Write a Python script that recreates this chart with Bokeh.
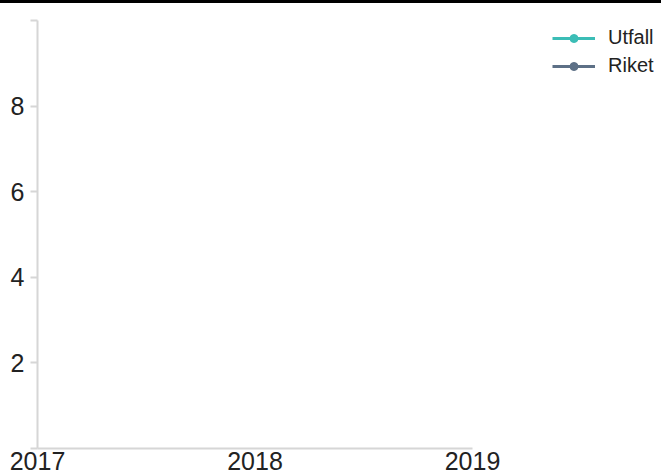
import math
from bokeh.plotting import figure
from bokeh.models import (Range1d, FixedTicker, Legend, LegendItem, ColumnDataSource, Div)
from bokeh.layouts import column
from bokeh.embed import file_html
from bokeh.resources import INLINE

# ---- data (the reference shows no plotted values) ----
years = [2017, 2018, 2019]
year_labels = ["2017", "2018", "2019"]
utfall = [float("nan"), float("nan"), float("nan")]
riket = [float("nan"), float("nan"), float("nan")]
y_ticks = [0, 2, 4, 6, 8, 10]
y_tick_labels = ["", "2", "4", "6", "8", ""]
series_names = ["Utfall", "Riket"]
series_colors = ["#3bbdb6", "#5d7086"]

FONT = "Liberation Sans"
TEXT = "#222222"
AXIS = "#d6d6d6"

W, H = 661, 473
LEFT, AXIS_END = 37, 472          # pixel positions of the first and last year
# the frame extends to the right edge so that the legend can live inside it
x_end = years[-1] + (years[-1] - years[0]) * (W - AXIS_END) / (AXIS_END - LEFT)

p = figure(width=W, height=H, output_backend="svg", toolbar_location=None,
           x_range=Range1d(years[0], x_end), y_range=Range1d(0, 10),
           min_border_left=LEFT, min_border_right=0, min_border_top=17, min_border_bottom=28,
           margin=0)
p.outline_line_color = None
p.xgrid.visible = False
p.ygrid.visible = False
p.background_fill_color = "white"
p.border_fill_color = "white"

src = ColumnDataSource(dict(x=years, u=utfall, r=riket))
items = []
for key, name, col in zip(["u", "r"], series_names, series_colors):
    l = p.line("x", key, source=src, line_color=col, line_width=3)
    s = p.scatter("x", key, source=src, size=8, fill_color=col, line_color=col)
    items.append(LegendItem(label=name, renderers=[l, s]))

# axes
xa = p.xaxis[0]
xa.ticker = FixedTicker(ticks=years)
xa.bounds = (years[0], years[-1])
xa.major_label_overrides = {y: lab for y, lab in zip(years, year_labels)}
xa.major_tick_out = 0
xa.major_tick_in = 0
xa.minor_tick_out = 0
xa.minor_tick_in = 0
xa.axis_line_color = AXIS
xa.axis_line_width = 2
xa.major_label_standoff = 3
xa.major_label_text_font = FONT
xa.major_label_text_font_size = "25px"
xa.major_label_text_color = TEXT

ya = p.yaxis[0]
ya.ticker = FixedTicker(ticks=y_ticks)
ya.major_label_overrides = {t: lab for t, lab in zip(y_ticks, y_tick_labels)}
ya.major_tick_out = 7
ya.major_tick_in = 0
ya.minor_tick_out = 0
ya.minor_tick_in = 0
ya.axis_line_color = AXIS
ya.axis_line_width = 2
ya.major_tick_line_color = AXIS
ya.major_tick_line_width = 2
ya.major_label_standoff = 6
ya.major_label_text_font = FONT
ya.major_label_text_font_size = "25px"
ya.major_label_text_color = TEXT

legend = Legend(items=items, location=(515, 371), orientation="vertical",
                padding=0, margin=0, spacing=5, glyph_width=43, glyph_height=20,
                label_height=20, label_standoff=13,
                label_text_font=FONT, label_text_font_size="20px", label_text_color=TEXT,
                border_line_color=None, background_fill_alpha=0)
p.add_layout(legend, "center")

top = Div(width=W, height=3, margin=0, styles={"background-color": "black"})
layout = column(top, p, spacing=0, margin=0)

open("out.html", "w").write(file_html(layout, INLINE))
